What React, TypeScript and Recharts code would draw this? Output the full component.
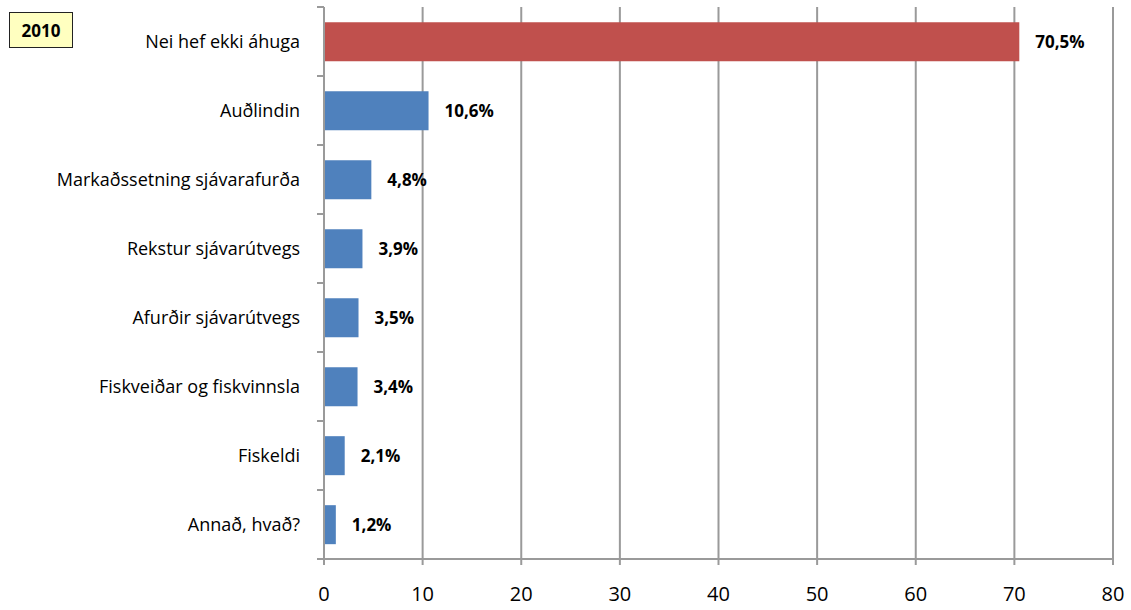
import React from 'react';
import { BarChart, Bar, XAxis, YAxis, CartesianGrid, Cell, LabelList } from 'recharts';

const categories = [
  'Nei hef ekki áhuga',
  'Auðlindin',
  'Markaðssetning sjávarafurða',
  'Rekstur sjávarútvegs',
  'Afurðir sjávarútvegs',
  'Fiskveiðar og fiskvinnsla',
  'Fiskeldi',
  'Annað, hvað?',
];
const values = [70.5, 10.6, 4.8, 3.9, 3.5, 3.4, 2.1, 1.2];
const xTicks = [0, 10, 20, 30, 40, 50, 60, 70, 80];

const data = categories.map((name, i) => ({ name, value: values[i] }));

const FONT = '"Open Sans", Lato, sans-serif';
const GRID = '#9a9a9a';
const BAND = 69;

const CategoryTick = (props: any) => {
  const { x, y, payload, index } = props;
  const ax = x + 24;
  const last = index === categories.length - 1;
  return (
    <g>
      <text x={x} y={y} dy="0.35em" textAnchor="end" fontSize={18} fill="#000" fontFamily={FONT}>
        {payload.value}
      </text>
      <line x1={ax - 7} x2={ax} y1={y - BAND / 2} y2={y - BAND / 2} stroke={GRID} strokeWidth={2} />
      {last && <line x1={ax - 7} x2={ax} y1={y + BAND / 2} y2={y + BAND / 2} stroke={GRID} strokeWidth={2} />}
    </g>
  );
};

const fmt = (v: any) => `${String(v).replace('.', ',')}%`;

export default function App() {
  return (
    <div style={{ position: 'absolute', left: 0, top: 0, width: 1131, height: 610, background: '#fff' }}>
      <BarChart
        width={1131}
        height={610}
        data={data}
        layout="vertical"
        margin={{ top: 7, right: 18, bottom: 0, left: 0 }}
        barCategoryGap="22%"
      >
        <CartesianGrid horizontal={false} stroke={GRID} strokeWidth={2} />
        <XAxis
          type="number"
          domain={[0, 80]}
          ticks={xTicks}
          interval={0}
          height={51}
          tickSize={6}
          tickMargin={22}
          axisLine={{ stroke: GRID, strokeWidth: 2 }}
          tickLine={{ stroke: GRID, strokeWidth: 2 }}
          tick={{ fontSize: 20, fill: '#000', fontFamily: FONT }}
        />
        <YAxis
          type="category"
          dataKey="name"
          width={324}
          interval={0}
          tickLine={false}
          tickSize={0}
          tickMargin={24}
          axisLine={{ stroke: GRID, strokeWidth: 2 }}
          tick={<CategoryTick />}
        />
        <Bar dataKey="value" isAnimationActive={false}>
          {data.map((d, i) => (
            <Cell key={d.name} fill={i === 0 ? '#C0504D' : '#4F81BD'} />
          ))}
          <LabelList
            dataKey="value"
            position="right"
            offset={16}
            formatter={fmt}
            style={{ fontSize: 17, fontWeight: 700, fill: '#000', fontFamily: FONT }}
          />
        </Bar>
      </BarChart>
      <div
        style={{
          position: 'absolute',
          left: 9,
          top: 12,
          width: 62,
          height: 34,
          border: '1.5px solid #222',
          background: '#FFFFC0',
          display: 'flex',
          alignItems: 'center',
          justifyContent: 'center',
          fontFamily: FONT,
          fontWeight: 700,
          fontSize: 17,
          color: '#000',
        }}
      >
        2010
      </div>
    </div>
  );
}
